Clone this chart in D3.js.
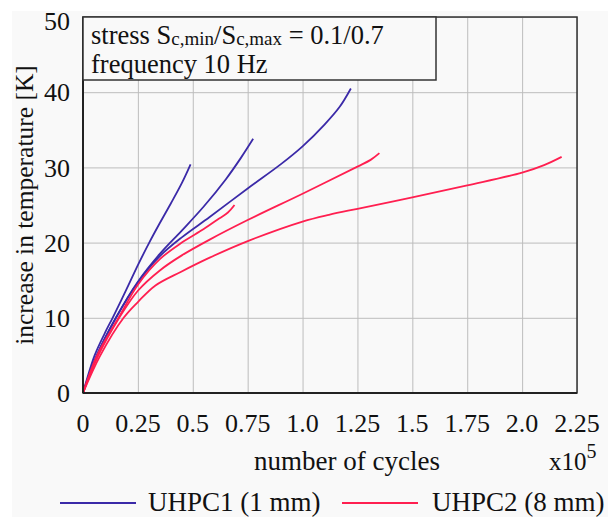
<!DOCTYPE html>
<html>
<head>
<meta charset="utf-8">
<script src="https://cdn.jsdelivr.net/npm/d3@7.9.0/dist/d3.min.js"></script>
<style>
  html, body { margin: 0; padding: 0; background: #fff; }
  svg { display: block; }
  text { font-family: "Liberation Serif", "Times New Roman", serif; fill: #111; }
</style>
</head>
<body>
<svg id="chart" width="608" height="517"></svg>
<script>
// ============= DATA ==================
// cycles in units of 1e5, temperature increase in K
const xTicks = [0, 0.25, 0.5, 0.75, 1.0, 1.25, 1.5, 1.75, 2.0, 2.25];
const xTickLabels = ["0", "0.25", "0.5", "0.75", "1.0", "1.25", "1.5", "1.75", "2.0", "2.25"];
const yTicks = [0, 10, 20, 30, 40, 50];

const uhpc1a = [[0,0],[0.053,5],[0.1,8],[0.135,10],[0.2,13.9],[0.25,17.0],[0.3,19.9],[0.35,22.6],[0.4,25.2],[0.45,27.9],[0.49,30.4]];
const uhpc1b = [[0,0],[0.063,5],[0.15,10],[0.25,14.8],[0.35,18.5],[0.45,21.6],[0.55,24.8],[0.65,28.4],[0.72,31.3],[0.775,33.8]];
const uhpc1c = [[0,0],[0.063,5],[0.15,10],[0.25,14.7],[0.35,18.2],[0.45,20.7],[0.577,23.4],[0.75,27.2],[0.9,30.4],[1.0,32.8],[1.1,35.7],[1.17,38.1],[1.22,40.5]];
const uhpc2a = [[0,0],[0.064,5],[0.162,10],[0.25,14.4],[0.35,17.8],[0.45,20.0],[0.55,21.8],[0.62,23.2],[0.66,24.0],[0.69,25.0]];
const uhpc2b = [[0,0],[0.07,5],[0.165,10],[0.25,13.6],[0.35,16.3],[0.45,18.3],[0.577,20.4],[0.75,23.0],[1.0,26.5],[1.25,30.1],[1.31,31.0],[1.35,31.9]];
const uhpc2c = [[0,0],[0.079,5],[0.185,10],[0.25,12.1],[0.33,14.3],[0.445,16.1],[0.577,18.0],[0.759,20.3],[1.0,22.8],[1.12,23.7],[1.25,24.5],[1.5,26.0],[1.75,27.6],[2.0,29.3],[2.1,30.3],[2.18,31.4]];

const seriesBlue = [uhpc1a, uhpc1b, uhpc1c];
const seriesRed = [uhpc2a, uhpc2b, uhpc2c];
const legendLabels = ["UHPC1 (1 mm)", "UHPC2 (8 mm)"];

const blue = "#3b2aa8";
const red = "#ff1f50";

// ============= SETUP ==================
const svg = d3.select("#chart");
const W = 608, H = 517;
const margin = { top: 17, right: 31, bottom: 124, left: 83 };
const innerW = W - margin.left - margin.right;
const innerH = H - margin.top - margin.bottom;

svg.append("rect")
  .attr("x", 12).attr("y", 11)
  .attr("width", W - 12).attr("height", H - 11)
  .attr("fill", "#f9f9f9");

const g = svg.append("g").attr("transform", `translate(${margin.left},${margin.top})`);

const x = d3.scaleLinear().domain([0, 2.25]).range([0, innerW]);
const y = d3.scaleLinear().domain([0, 50]).range([innerH, 0]);

// grid
g.append("g")
  .call(d3.axisBottom(x).tickValues(xTicks).tickSize(innerH).tickFormat(""))
  .call(a => a.select(".domain").remove())
  .selectAll("line").attr("stroke", "#bdbdbd").attr("stroke-width", 1);

g.append("g")
  .call(d3.axisLeft(y).tickValues(yTicks).tickSize(-innerW).tickFormat(""))
  .call(a => a.select(".domain").remove())
  .selectAll("line").attr("stroke", "#bdbdbd").attr("stroke-width", 1);

// lines
const line = d3.line()
  .x(d => x(d[0]))
  .y(d => y(d[1]))
  .curve(d3.curveCatmullRom.alpha(0.5));

g.selectAll(".blue")
  .data(seriesBlue)
  .join("path")
  .attr("class", "blue")
  .attr("d", line)
  .attr("fill", "none")
  .attr("stroke", blue)
  .attr("stroke-width", 1.8);

g.selectAll(".red")
  .data(seriesRed)
  .join("path")
  .attr("class", "red")
  .attr("d", line)
  .attr("fill", "none")
  .attr("stroke", red)
  .attr("stroke-width", 1.8);

// frame
g.append("rect")
  .attr("width", innerW).attr("height", innerH)
  .attr("fill", "none")
  .attr("stroke", "#333")
  .attr("stroke-width", 1.5);

g.append("line")
  .attr("x1", 0).attr("x2", 0).attr("y1", 0).attr("y2", innerH)
  .attr("stroke", "#222").attr("stroke-width", 2);
g.append("line")
  .attr("x1", 0).attr("x2", innerW).attr("y1", innerH).attr("y2", innerH)
  .attr("stroke", "#222").attr("stroke-width", 2);

// annotation box
const box = g.append("g");
box.append("rect")
  .attr("x", 0).attr("y", 0)
  .attr("width", 353).attr("height", 63)
  .attr("fill", "#f9f9f9")
  .attr("stroke", "#333")
  .attr("stroke-width", 1.5);

const t1 = box.append("text").attr("x", 8).attr("y", 27).style("font-size", "26.5px");
t1.append("tspan").text("stress S");
t1.append("tspan").text("c,min").style("font-size", "19px").attr("dy", 1);
t1.append("tspan").text("/S").attr("dy", -1);
t1.append("tspan").text("c,max").style("font-size", "19px").attr("dy", 1);
t1.append("tspan").text(" = 0.1/0.7").attr("dy", -1);

box.append("text").attr("x", 8).attr("y", 56).style("font-size", "26.5px")
  .text("frequency 10 Hz");

// tick labels
g.append("g")
  .selectAll("text")
  .data(yTicks)
  .join("text")
  .attr("x", -13)
  .attr("y", d => Math.max(y(d), 4))
  .attr("dy", "0.35em")
  .attr("text-anchor", "end")
  .style("font-size", "26px")
  .text(d => d);

g.append("g")
  .selectAll("text")
  .data(xTicks)
  .join("text")
  .attr("x", d => x(d))
  .attr("y", innerH + 39)
  .attr("text-anchor", "middle")
  .style("font-size", "26px")
  .text((d, i) => xTickLabels[i]);

// axis titles
svg.append("text")
  .attr("x", 347).attr("y", 470)
  .attr("text-anchor", "middle")
  .style("font-size", "27px")
  .text("number of cycles");

const xp = svg.append("text").attr("x", 549).attr("y", 470).style("font-size", "25px");
xp.append("tspan").text("x10");
xp.append("tspan").text("5").attr("dy", -12).style("font-size", "20px");

svg.append("text")
  .attr("transform", `translate(33,${margin.top + innerH / 2}) rotate(-90)`)
  .attr("text-anchor", "middle")
  .style("font-size", "25.5px")
  .text("increase in temperature [K]");

// legend
const legend = svg.append("g");
const legendItems = [
  { label: legendLabels[0], color: blue, x: 60, tx: 148 },
  { label: legendLabels[1], color: red, x: 342, tx: 432 }
];
legendItems.forEach(it => {
  legend.append("line")
    .attr("x1", it.x).attr("x2", it.x + 76)
    .attr("y1", 503).attr("y2", 503)
    .attr("stroke", it.color).attr("stroke-width", 1.8);
  legend.append("text")
    .attr("x", it.tx).attr("y", 511)
    .style("font-size", "27px")
    .text(it.label);
});
</script>
</body>
</html>
